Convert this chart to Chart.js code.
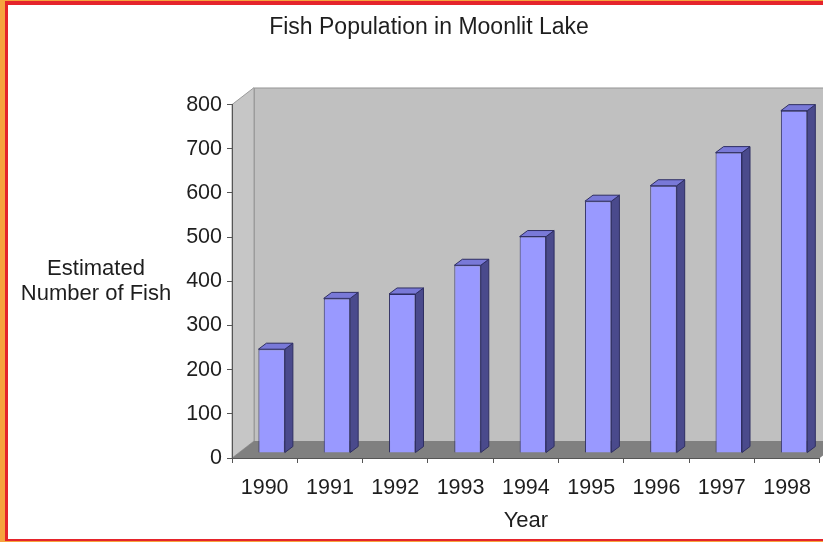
<!DOCTYPE html>
<html>
<head>
<meta charset="utf-8">
<title>Fish Population in Moonlit Lake</title>
<script src="https://cdn.jsdelivr.net/npm/chart.js@4.4.1/dist/chart.umd.min.js"></script>
<style>
  html, body { margin: 0; padding: 0; background: #fff; }
  #outer {
    width: 823px; height: 542px; box-sizing: border-box;
    border-left: 5px solid #f6a33e; border-top: 1px solid #f6a33e; border-bottom: 1px solid #f6a33e;
  }
  #inner {
    height: 100%; box-sizing: border-box;
    border-left: 3px solid #e5242b; border-top: 4px solid #e5242b; border-bottom: 2px solid #e5242b;
  }
  canvas { display: block; }
</style>
</head>
<body>
<div id="outer"><div id="inner"><canvas id="fishChart" width="815" height="534"></canvas></div></div>
<script>
const years = ['1990', '1991', '1992', '1993', '1994', '1995', '1996', '1997', '1998'];
const fishCounts = [235, 350, 360, 425, 490, 570, 605, 680, 775];
const yTicks = [0, 100, 200, 300, 400, 500, 600, 700, 800];
const chartTitle = 'Fish Population in Moonlit Lake';
const yTitleLines = ['Estimated', 'Number of Fish'];
const xTitle = 'Year';

const FONT = '"Liberation Sans", Arial, sans-serif';
const TEXT = '#1e1e1e';

// depth of the 3D box, where the columns sit inside it, and column depth
const WALL_DEPTH = { x: 22, y: -17 };
const BAR_SHIFT = { x: 7, y: -5 };
const BAR_DEPTH = { x: 8, y: -6 };

function poly(ctx, pts) {
  ctx.beginPath();
  ctx.moveTo(pts[0][0], pts[0][1]);
  for (let i = 1; i < pts.length; i++) ctx.lineTo(pts[i][0], pts[i][1]);
  ctx.closePath();
}

// back wall, side wall and floor behind the axes
const box3d = {
  id: 'box3d',
  beforeDraw(chart) {
    const { ctx, chartArea: { left, right, top, bottom } } = chart;
    const dx = WALL_DEPTH.x, dy = WALL_DEPTH.y;
    ctx.save();
    ctx.lineWidth = 1;
    ctx.strokeStyle = '#9c9c9c';

    ctx.fillStyle = '#c0c0c0';
    ctx.fillRect(left + dx, top + dy, right - left, bottom - top);
    ctx.beginPath();
    ctx.moveTo(left + dx + 0.5, bottom + dy);
    ctx.lineTo(left + dx + 0.5, top + dy + 0.5);
    ctx.lineTo(right + dx, top + dy + 0.5);
    ctx.stroke();

    ctx.fillStyle = '#c6c6c6';
    poly(ctx, [[left, top], [left + dx, top + dy], [left + dx, bottom + dy], [left, bottom]]);
    ctx.fill();
    ctx.stroke();

    ctx.fillStyle = '#808080';
    poly(ctx, [[left, bottom], [left + dx, bottom + dy], [right + dx, bottom + dy], [right, bottom]]);
    ctx.fill();
    ctx.restore();
  },
  afterDraw(chart) {
    // horizontal value axis title
    const { ctx } = chart;
    ctx.save();
    ctx.font = '22px ' + FONT;
    ctx.fillStyle = TEXT;
    ctx.textAlign = 'center';
    ctx.textBaseline = 'alphabetic';
    yTitleLines.forEach((line, i) => ctx.fillText(line, 88, 270 + i * 25));
    ctx.restore();
  }
};

// columns are pushed back into the box and given a top and a right face
const columns3d = {
  id: 'columns3d',
  beforeDatasetsDraw(chart) {
    chart.ctx.save();
    chart.ctx.translate(BAR_SHIFT.x, BAR_SHIFT.y);
  },
  afterDatasetsDraw(chart) {
    const ctx = chart.ctx;
    const dx = BAR_DEPTH.x, dy = BAR_DEPTH.y;
    ctx.lineWidth = 1;
    ctx.strokeStyle = '#2e2e62';
    chart.getDatasetMeta(0).data.forEach(bar => {
      const { x, y, base, width } = bar.getProps(['x', 'y', 'base', 'width'], true);
      const l = x - width / 2, r = x + width / 2;
      ctx.fillStyle = '#4a4a8c';
      poly(ctx, [[r, y], [r + dx, y + dy], [r + dx, base + dy], [r, base]]);
      ctx.fill();
      ctx.stroke();
      ctx.fillStyle = '#7979d8';
      poly(ctx, [[l, y], [l + dx, y + dy], [r + dx, y + dy], [r, y]]);
      ctx.fill();
      ctx.stroke();
    });
    ctx.restore();
  }
};

const ctx = document.getElementById('fishChart').getContext('2d');

new Chart(ctx, {
  type: 'bar',
  data: {
    labels: years,
    datasets: [{
      label: 'Fish',
      data: fishCounts,
      backgroundColor: '#9999ff',
      borderColor: '#2e2e62',
      borderWidth: 1,
      barPercentage: 0.405,
      categoryPercentage: 1,
      clip: false
    }]
  },
  options: {
    responsive: false,
    animation: false,
    layout: { padding: { left: 27, right: 0, top: 0, bottom: 0 } },
    plugins: {
      legend: { display: false },
      tooltip: { enabled: false },
      title: {
        display: true,
        text: chartTitle,
        color: TEXT,
        font: { family: FONT, size: 23, weight: 'normal' },
        padding: { top: 9, bottom: 63 }
      }
    },
    scales: {
      x: {
        grid: { drawOnChartArea: false, drawTicks: true, tickLength: 5, color: '#555' },
        border: { display: true, color: '#555' },
        ticks: { color: TEXT, padding: 12, font: { family: FONT, size: 21.5 }, maxRotation: 0 },
        title: {
          display: true, text: xTitle, color: TEXT,
          font: { family: FONT, size: 22 }, padding: { top: 0, bottom: 5 }
        },
        afterFit: scale => { scale.height = 81; }
      },
      y: {
        min: 0,
        max: 800,
        afterBuildTicks: scale => { scale.ticks = yTicks.map(v => ({ value: v })); },
        grid: { drawOnChartArea: false, drawTicks: true, tickLength: 5, color: '#555' },
        border: { display: true, color: '#555' },
        ticks: { color: TEXT, padding: 5, font: { family: FONT, size: 21.5 } },
        afterFit: scale => { scale.width = 197; }
      }
    }
  },
  plugins: [box3d, columns3d]
});
</script>
</body>
</html>
